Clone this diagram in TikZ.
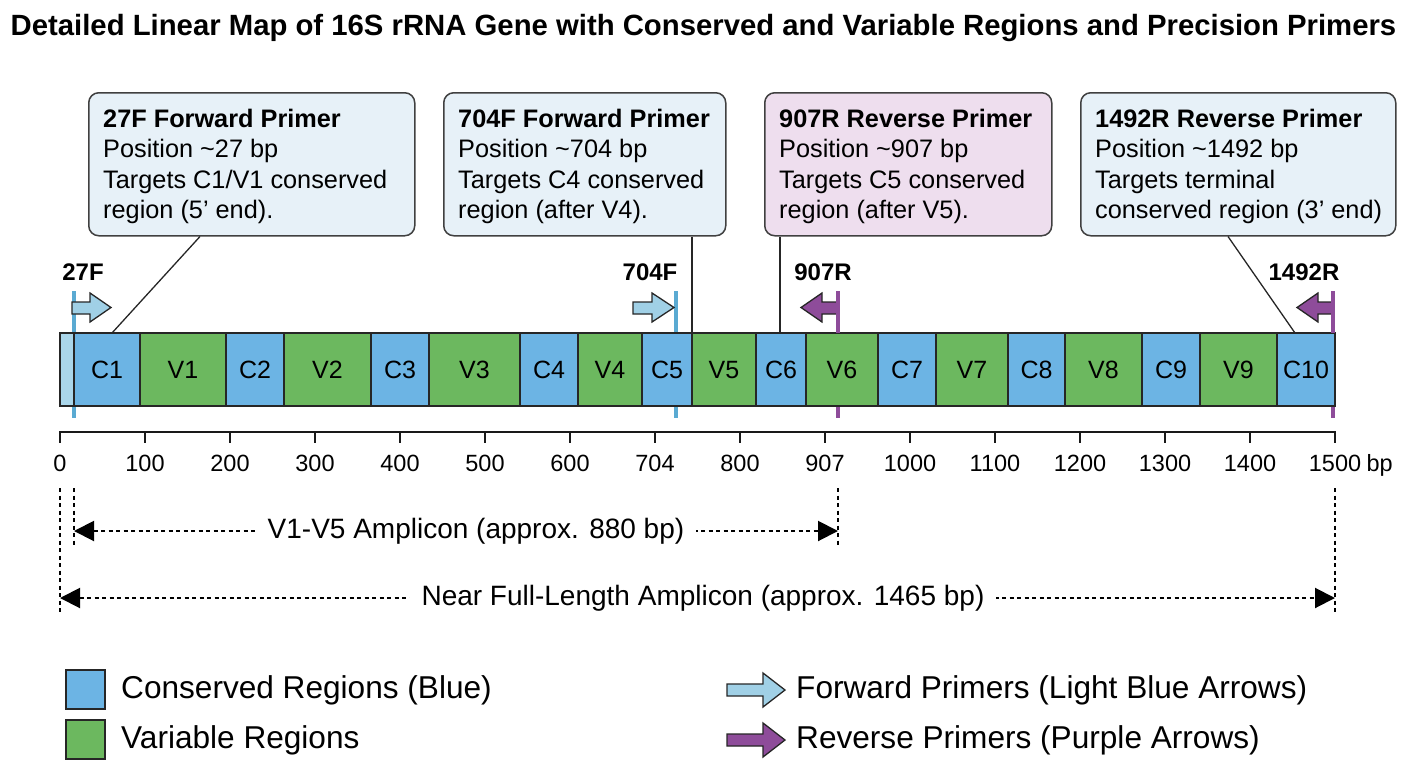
\documentclass[tikz,border=0pt]{standalone}
\usepackage{fontspec}
\setmainfont{Liberation Sans}
\usetikzlibrary{arrows.meta}
\definecolor{consblue}{RGB}{108,180,228}
\definecolor{vargreen}{RGB}{108,184,95}
\definecolor{stripblue}{RGB}{170,214,234}
\definecolor{fwdblue}{RGB}{160,208,230}
\definecolor{fwdline}{RGB}{90,170,210}
\definecolor{revpurple}{RGB}{142,76,154}
\definecolor{boxblue}{RGB}{231,241,248}
\definecolor{boxpink}{RGB}{238,222,238}
\newcommand\fsz[2]{\fontsize{#1}{#2}\selectfont}
\tikzset{
  seglabel/.style={font=\fsz{25}{28}, inner sep=0pt},
  segbox/.style={draw=black!85, line width=2pt},
  calloutbox/.style={draw=black!75, line width=1.5pt, rounded corners=10pt, anchor=north west,
    minimum height=143pt, inner sep=0pt},
  callouttext/.style={anchor=west, inner sep=0pt, align=left, font=\fsz{25.3}{30.5}},
  leader/.style={line width=1.3pt, black!85},
  primerlabel/.style={font=\bfseries\fsz{24}{26}, inner sep=0pt},
  fwdarrow/.style={fill=fwdblue, draw=black!85, line width=1.3pt, line join=miter},
  revarrow/.style={fill=revpurple, draw=black!85, line width=1.3pt, line join=miter},
  fwdmark/.style={line width=4pt, draw=fwdline},
  revmark/.style={line width=4pt, draw=revpurple},
  axislabel/.style={font=\fsz{23.5}{26}, inner sep=0pt},
  dotline/.style={line width=2pt, dash pattern=on 4pt off 3.5pt, black},
  amparrow/.style={dotline, {Triangle[length=20pt,width=20pt]}-{Triangle[length=20pt,width=20pt]}},
  amptext/.style={fill=white, font=\fsz{28}{30}, inner xsep=12pt, inner ysep=2pt},
  legendbox/.style={draw=black!85, line width=2pt, minimum width=39pt, minimum height=39pt, inner sep=0pt},
  legendtext/.style={anchor=west, font=\fsz{31.6}{34}, inner sep=0pt}
}
\begin{document}
\begin{tikzpicture}[x=1pt,y=-1pt]
\useasboundingbox (0,0) rectangle (1408,768);
% title
\node[font=\bfseries\fsz{29.3}{32}, inner sep=0pt] (title) at (703.5,28) {Detailed Linear Map of 16S rRNA Gene with Conserved and Variable Regions and Precision Primers};

% callouts
\node[calloutbox, fill=boxblue, minimum width=326pt] (c1) at (88,92) {};
\node[callouttext] (c1t) at ([xshift=15pt,yshift=-2pt]c1.west)
  {\textbf{27F Forward Primer}\\Position \textasciitilde27 bp\\Targets C1/V1 conserved\\region (5’ end).};
\node[calloutbox, fill=boxblue, minimum width=282pt] (c2) at (443,92) {};
\node[callouttext] (c2t) at ([xshift=15pt,yshift=-2pt]c2.west)
  {\textbf{704F Forward Primer}\\Position \textasciitilde704 bp\\Targets C4 conserved\\region (after V4).};
\node[calloutbox, fill=boxpink, minimum width=287pt] (c3) at (764,92) {};
\node[callouttext] (c3t) at ([xshift=15pt,yshift=-2pt]c3.west)
  {\textbf{907R Reverse Primer}\\Position \textasciitilde907 bp\\Targets C5 conserved\\region (after V5).};
\node[calloutbox, fill=boxblue, minimum width=315pt] (c4) at (1080,92) {};
\node[callouttext] (c4t) at ([xshift=15pt,yshift=-2pt]c4.west)
  {\textbf{1492R Reverse Primer}\\Position \textasciitilde1492 bp\\Targets terminal\\conserved region (3’ end)};

% primer markers (behind the bar)
\draw[fwdmark] (74,291) -- (74,418);
\draw[fwdmark] (676,291) -- (676,418);
\draw[revmark] (838,291) -- (838,418);
\draw[revmark] (1333,291) -- (1333,418);

% bar segments
\draw[segbox, fill=stripblue] (60,333) rectangle (74,406);
\foreach \a/\b/\lab/\col in {74/140/C1/consblue, 140/226/V1/vargreen, 226/284/C2/consblue,
  284/371/V2/vargreen, 371/429/C3/consblue, 429/520/V3/vargreen, 520/578/C4/consblue,
  578/642/V4/vargreen, 642/692/C5/consblue, 692/756/V5/vargreen, 756/806/C6/consblue,
  806/878/V6/vargreen, 878/936/C7/consblue, 936/1008/V7/vargreen, 1008/1065/C8/consblue,
  1065/1142/V8/vargreen, 1142/1200/C9/consblue, 1200/1277/V9/vargreen, 1277/1335/C10/consblue}{
  \draw[segbox, fill=\col] (\a,333) rectangle (\b,406);
  \node[seglabel] (seg\lab) at ({(\a+\b)/2},370) {\lab};
}

% leaders
\coordinate (t1) at (112,333);
\coordinate (t2) at (692,333);
\coordinate (t3) at (780,333);
\coordinate (t4) at (1295,333);
\draw[leader] ([xshift=112pt]c1.south west) -- (t1);
\draw[leader] (c2.south -| t2) -- (t2);
\draw[leader] (c3.south -| t3) -- (t3);
\draw[leader] ([xshift=148pt]c4.south west) -- (t4);

% primer arrows
\draw[fwdarrow] (72,302) -- (90,302) -- (90,293) -- (111,307.5) -- (90,322) -- (90,314) -- (72,314) -- cycle;
\draw[fwdarrow] (633,302) -- (652,302) -- (652,293) -- (674,307.5) -- (652,322) -- (652,314) -- (633,314) -- cycle;
\draw[revarrow] (838,302) -- (822,302) -- (822,293) -- (801,307.5) -- (822,322) -- (822,314) -- (838,314) -- cycle;
\draw[revarrow] (1333,302) -- (1318,302) -- (1318,293) -- (1297,307.5) -- (1318,322) -- (1318,314) -- (1333,314) -- cycle;
\draw[revmark] (838,291) -- (838,333);
\draw[revmark] (1333,291) -- (1333,333);

\node[primerlabel] (p27) at (83,272) {27F};
\node[primerlabel] (p704) at (650,272) {704F};
\node[primerlabel] (p907) at (823,272) {907R};
\node[primerlabel] (p1492) at (1304,272) {1492R};

% axis
\draw[line width=2.5pt, black!90] (60,432) -- (1335,432);
\foreach \i/\lab in {0/0,1/100,2/200,3/300,4/400,5/500,6/600,7/704,8/800,9/907,10/1000,11/1100,12/1200,13/1300,14/1400}{
  \draw[line width=2pt, black!90] ({60+85*\i},431) -- ({60+85*\i},443);
  \node[axislabel] (ax\i) at ({60+85*\i},463) {\lab};
}
\draw[line width=2pt, black!90] (1335,431) -- (1335,443);
\node[axislabel] (ax15) at (1335,463) {1500};
\node[axislabel, anchor=base west] (axbp) at ([xshift=5pt]ax15.base east) {bp};

% amplicons
\coordinate (d0a) at (60,488);  \coordinate (d0b) at (60,612);
\coordinate (d1a) at (74,488);  \coordinate (d1b) at (74,545);
\coordinate (d2a) at (838,488); \coordinate (d2b) at (838,545);
\coordinate (d3a) at (1335,488); \coordinate (d3b) at (1335,612);
\draw[dotline] (d0a) -- (d0b);
\draw[dotline] (d1a) -- (d1b);
\draw[dotline] (d2a) -- (d2b);
\draw[dotline] (d3a) -- (d3b);
\coordinate (a1l) at (74,531); \coordinate (a1r) at (838,531);
\coordinate (a2l) at (60,598); \coordinate (a2r) at (1335,598);
\draw[amparrow] (a1l) -- (a1r);
\draw[amparrow] (a2l) -- (a2r);
\node[amptext] (amp1) at (476,531) {V1-V5 Amplicon (approx. 880 bp)};
\node[amptext] (amp2) at (703,598) {Near Full-Length Amplicon (approx. 1465 bp)};

% legend
\node[legendbox, fill=consblue] (lg1) at (85.5,689.5) {};
\node[legendbox, fill=vargreen] (lg2) at (85.5,739) {};
\node[legendtext] (lt1) at (121,690) {Conserved Regions (Blue)};
\node[legendtext] (lt2) at (121,740) {Variable Regions};
\draw[fwdarrow] (727,684) -- (763,684) -- (763,673) -- (785,690) -- (763,707) -- (763,696) -- (727,696) -- cycle;
\draw[revarrow] (727,734) -- (763,734) -- (763,723) -- (785,740) -- (763,757) -- (763,746) -- (727,746) -- cycle;
\node[legendtext] (lt3) at (796,690) {Forward Primers (Light Blue Arrows)};
\node[legendtext] (lt4) at (796,740) {Reverse Primers (Purple Arrows)};
\end{tikzpicture}
\end{document}
